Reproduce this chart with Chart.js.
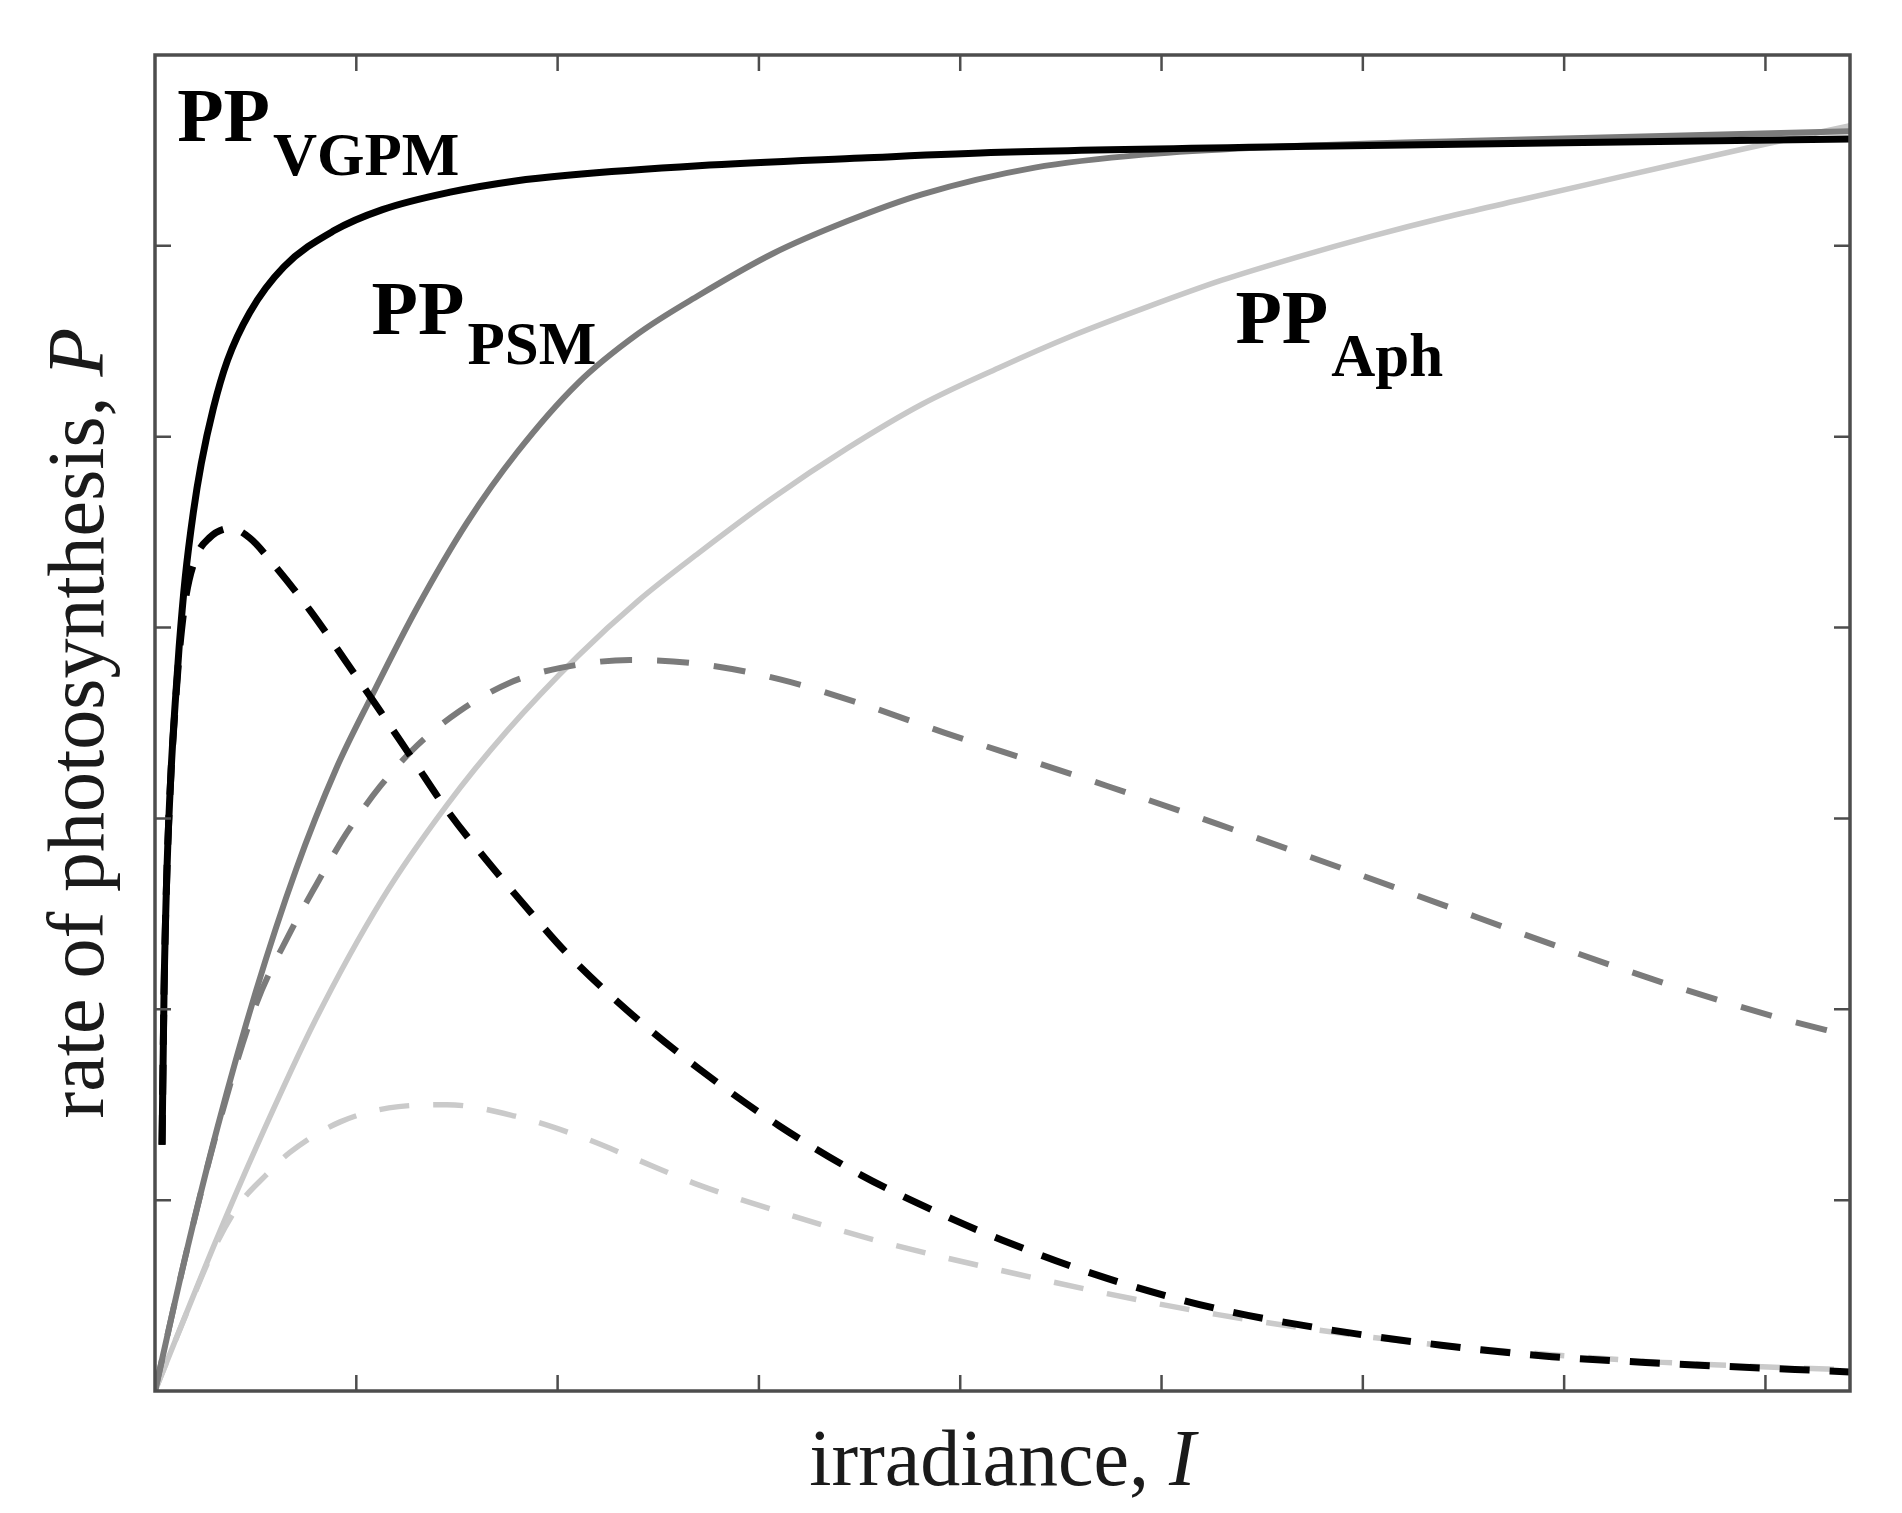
<!DOCTYPE html>
<html>
<head>
<meta charset="utf-8">
<title>Photosynthesis vs irradiance</title>
<script src="https://cdn.jsdelivr.net/npm/chart.js@4.4.1/dist/chart.umd.min.js"></script>
<style>
  html, body { margin: 0; padding: 0; background: #fff; }
  #wrap { width: 1902px; height: 1513px; }
</style>
</head>
<body>
<div id="wrap"><canvas id="ppChart" width="1902" height="1513"></canvas></div>
<script>
// axis limits and tick positions (no tick labels in the figure)
const xMax = 8.42;
const yMax = 7;
const xTicks = [1, 2, 3, 4, 5, 6, 7, 8];
const yTicks = [1, 2, 3, 4, 5, 6];

// PP_VGPM
const vgpmX = [0.035, 0.045, 0.06, 0.08, 0.10, 0.12, 0.15, 0.19, 0.23, 0.29, 0.36, 0.47, 0.64, 0.89, 1.13, 1.46, 1.79, 2.05, 2.70, 3.51, 4.20, 5.67, 7.0, 8.42];
const vgpmY = [1.29, 2.10, 2.75, 3.25, 3.60, 3.90, 4.26, 4.60, 4.86, 5.15, 5.40, 5.65, 5.89, 6.08, 6.19, 6.28, 6.34, 6.37, 6.42, 6.46, 6.49, 6.52, 6.54, 6.56];
const vgpmDashX = [0.035, 0.045, 0.06, 0.08, 0.10, 0.12, 0.15, 0.20, 0.27, 0.376, 0.47, 0.59, 0.77, 0.95, 1.12, 1.28, 1.46, 1.64, 1.84, 2.04, 2.34, 2.70, 3.10, 3.51, 3.92, 4.21, 4.73, 5.28, 5.84, 6.39, 6.94, 7.49, 8.42];
const vgpmDashY = [1.29, 2.10, 2.75, 3.25, 3.58, 3.86, 4.14, 4.36, 4.47, 4.52, 4.47, 4.33, 4.09, 3.82, 3.56, 3.31, 3.03, 2.79, 2.54, 2.30, 2.00, 1.69, 1.39, 1.13, 0.92, 0.79, 0.59, 0.43, 0.32, 0.24, 0.18, 0.145, 0.10];

// PP_PSM
const psmX = [0, 0.15, 0.31, 0.50, 0.70, 0.90, 1.076, 1.30, 1.55, 1.80, 2.10, 2.40, 2.70, 3.07, 3.44, 3.81, 4.37, 4.93, 5.48, 6.5, 8.42];
const psmY = [0, 0.70, 1.38, 2.09, 2.73, 3.26, 3.64, 4.10, 4.55, 4.92, 5.28, 5.54, 5.74, 5.96, 6.13, 6.27, 6.41, 6.48, 6.515, 6.55, 6.60];
const psmDashX = [0, 0.15, 0.31, 0.50, 0.67, 0.80, 0.95, 1.12, 1.30, 1.51, 1.76, 2.02, 2.36, 2.70, 3.10, 3.51, 3.92, 4.21, 4.73, 5.28, 5.84, 6.39, 6.94, 7.49, 8.05, 8.42];
const psmDashY = [0, 0.70, 1.37, 2.02, 2.40, 2.65, 2.92, 3.17, 3.38, 3.56, 3.71, 3.79, 3.83, 3.81, 3.73, 3.60, 3.45, 3.35, 3.17, 2.97, 2.76, 2.55, 2.34, 2.14, 1.96, 1.86];

// PP_Aph
const aphX = [0, 0.30, 0.50, 0.80, 1.13, 1.45, 1.75, 2.10, 2.40, 2.70, 3.07, 3.44, 3.81, 4.19, 4.56, 4.93, 5.30, 5.67, 6.04, 6.41, 6.78, 7.15, 7.52, 7.90, 8.42];
const aphY = [0, 0.78, 1.27, 1.95, 2.58, 3.07, 3.46, 3.85, 4.14, 4.39, 4.68, 4.94, 5.17, 5.36, 5.53, 5.68, 5.82, 5.94, 6.05, 6.15, 6.24, 6.33, 6.42, 6.51, 6.63];
const aphDashX = [0, 0.15, 0.30, 0.42, 0.55, 0.67, 0.92, 1.21, 1.45, 1.79, 2.12, 2.40, 2.70, 3.10, 3.51, 3.92, 4.21, 4.73, 5.28, 5.84, 6.39, 6.94, 7.49, 8.42];
const aphDashY = [0, 0.39, 0.76, 0.98, 1.13, 1.25, 1.41, 1.49, 1.50, 1.44, 1.33, 1.21, 1.08, 0.94, 0.81, 0.70, 0.63, 0.51, 0.40, 0.31, 0.24, 0.19, 0.15, 0.11];

// curve labels, anchored in data units
const curveLabels = [
  { main: "PP", sub: "VGPM", x: 0.11, y: 6.55, subY: 6.37 },
  { main: "PP", sub: "PSM", x: 1.076, y: 5.54, subY: 5.38 },
  { main: "PP", sub: "Aph", x: 5.367, y: 5.49, subY: 5.32 }
];

const xTitle = ["irradiance, ", "I"];
const yTitle = ["rate of photosynthesis, ", "P"];

function toPoints(xs, ys) {
  return xs.map((x, i) => ({ x: x, y: ys[i] }));
}

function line(label, xs, ys, color, width, dash) {
  return {
    label: label,
    data: toPoints(xs, ys),
    borderColor: color,
    borderWidth: width,
    borderDash: dash || [],
    pointRadius: 0,
    fill: false,
    cubicInterpolationMode: "monotone"
  };
}

const SERIF = '"Liberation Serif", "DejaVu Serif", serif';

// frame with inward ticks, axis titles and curve labels
const framePlugin = {
  id: "frame",
  afterDatasetsDraw(chart) {
    const { ctx, chartArea: a, scales } = chart;
    const xs = scales.x, ys = scales.y;
    const tickLen = 16;
    ctx.save();
    ctx.strokeStyle = "#4d4d4d";
    ctx.lineWidth = 2.5;
    ctx.beginPath();
    xTicks.forEach(t => {
      const px = xs.getPixelForValue(t);
      ctx.moveTo(px, a.bottom); ctx.lineTo(px, a.bottom - tickLen);
      ctx.moveTo(px, a.top); ctx.lineTo(px, a.top + tickLen);
    });
    yTicks.forEach(t => {
      const py = ys.getPixelForValue(t);
      ctx.moveTo(a.left, py); ctx.lineTo(a.left + tickLen, py);
      ctx.moveTo(a.right, py); ctx.lineTo(a.right - tickLen, py);
    });
    ctx.stroke();
    ctx.lineWidth = 3.5;
    ctx.strokeRect(a.left, a.top, a.right - a.left, a.bottom - a.top);

    // curve labels
    ctx.fillStyle = "#000";
    ctx.textBaseline = "alphabetic";
    ctx.textAlign = "left";
    curveLabels.forEach(l => {
      const px = xs.getPixelForValue(l.x);
      ctx.font = "bold 76px " + SERIF;
      ctx.fillText(l.main, px, ys.getPixelForValue(l.y));
      const w = ctx.measureText(l.main).width;
      ctx.font = "bold 61px " + SERIF;
      ctx.fillText(l.sub, px + w + 3, ys.getPixelForValue(l.subY));
    });

    // axis titles
    ctx.fillStyle = "#1a1a1a";
    const reg = "80px " + SERIF, ital = "italic 80px " + SERIF;
    ctx.font = reg;
    let w1 = ctx.measureText(xTitle[0]).width;
    ctx.font = ital;
    let w2 = ctx.measureText(xTitle[1]).width;
    let cx = (a.left + a.right) / 2 - (w1 + w2) / 2;
    ctx.font = reg;
    ctx.fillText(xTitle[0], cx, a.bottom + 94);
    ctx.font = ital;
    ctx.fillText(xTitle[1], cx + w1, a.bottom + 94);

    ctx.translate(103, (a.top + a.bottom) / 2);
    ctx.rotate(-Math.PI / 2);
    ctx.font = reg;
    w1 = ctx.measureText(yTitle[0]).width;
    ctx.font = ital;
    w2 = ctx.measureText(yTitle[1]).width;
    cx = -(w1 + w2) / 2;
    ctx.font = reg;
    ctx.fillText(yTitle[0], cx, 0);
    ctx.font = ital;
    ctx.fillText(yTitle[1], cx + w1, 0);
    ctx.restore();
  }
};

new Chart(document.getElementById("ppChart"), {
  type: "line",
  data: {
    datasets: [
      line("VGPM depth", vgpmDashX, vgpmDashY, "#000000", 7, [30, 20]),
      line("VGPM", vgpmX, vgpmY, "#000000", 7),
      line("PSM depth", psmDashX, psmDashY, "#7b7b7b", 6, [32, 25]),
      line("PSM", psmX, psmY, "#7b7b7b", 6),
      line("Aph depth", aphDashX, aphDashY, "#cacaca", 5.5, [30, 24]),
      line("Aph", aphX, aphY, "#c8c8c8", 5.5)
    ]
  },
  options: {
    responsive: false,
    animation: false,
    devicePixelRatio: 1,
    layout: { padding: { left: 155, top: 55, right: 52, bottom: 122 } },
    plugins: {
      legend: { display: false },
      tooltip: { enabled: false }
    },
    scales: {
      x: { type: "linear", min: 0, max: xMax, display: false },
      y: { type: "linear", min: 0, max: yMax, display: false }
    }
  },
  plugins: [framePlugin]
});
</script>
</body>
</html>
